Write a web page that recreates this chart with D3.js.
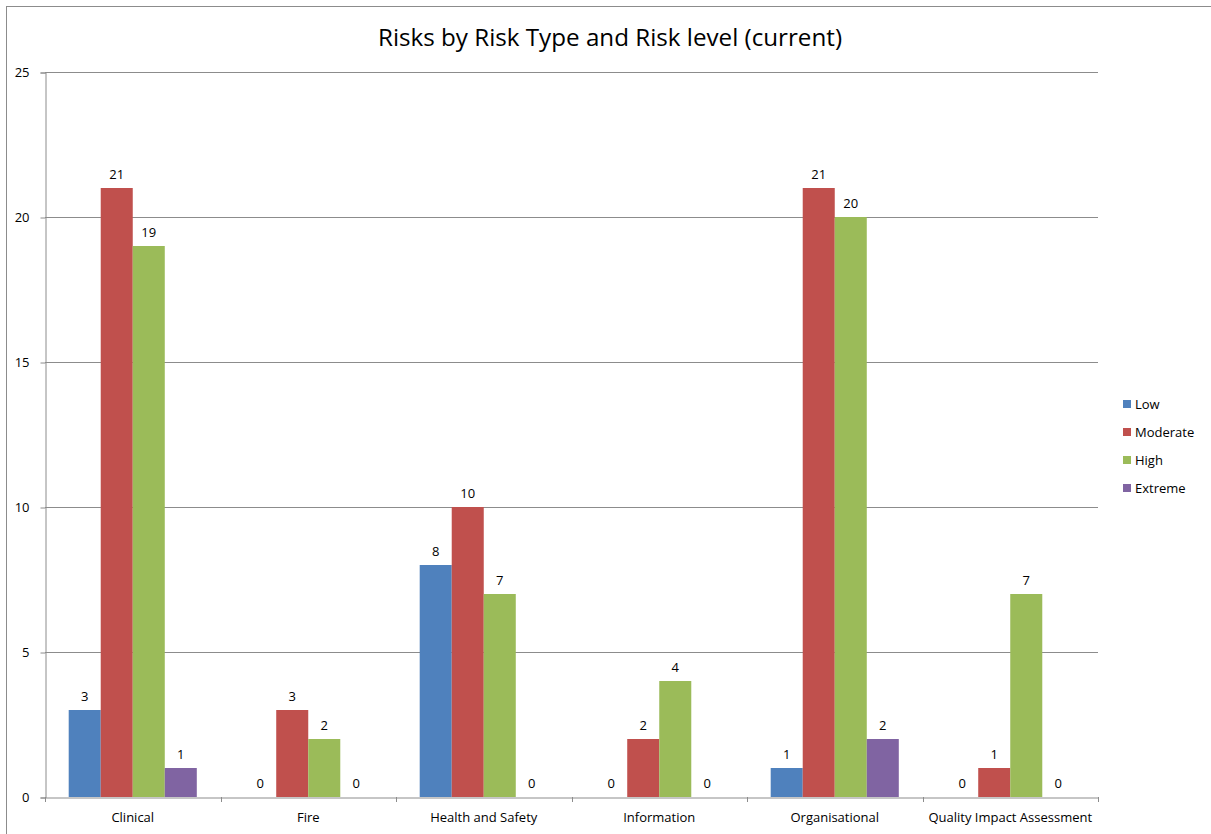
<!DOCTYPE html>
<html>
<head>
<meta charset="utf-8">
<script src="https://cdn.jsdelivr.net/npm/d3@7"></script>
<style>
  body { margin: 0; background: #fff; }
  text { font-family: "Open Sans", "DejaVu Sans", sans-serif; fill: #000; }
</style>
</head>
<body>
<svg id="chart" width="1211" height="834"></svg>
<script>
const categories = ['Clinical', 'Fire', 'Health and Safety', 'Information', 'Organisational', 'Quality Impact Assessment'];
const levels = ['Low', 'Moderate', 'High', 'Extreme'];
const colors = ['#4f81bd', '#c0504d', '#9bbb59', '#8064a2'];
const low = [3, 0, 8, 0, 1, 0];
const moderate = [21, 3, 10, 2, 21, 1];
const high = [19, 2, 7, 4, 20, 7];
const extreme = [1, 0, 0, 0, 2, 0];
const yTicks = [0, 5, 10, 15, 20, 25];

const series = [low, moderate, high, extreme];
const svg = d3.select('#chart');
const fs = 13;

// chart frame (runs off the right/bottom edge like the screenshot)
svg.append('rect')
  .attr('x', 6.5).attr('y', 6.5)
  .attr('width', 1220).attr('height', 840)
  .attr('fill', 'none').attr('stroke', '#8c8c8c').attr('stroke-width', 1);

const plot = { left: 45, right: 1098, top: 72, bottom: 797 };

const x = d3.scaleBand().domain(categories).range([plot.left, plot.right]).paddingInner(0).paddingOuter(0);
const xInner = d3.scaleBand().domain(levels).range([0, x.bandwidth()]).paddingInner(0).paddingOuter(0.74);
const y = d3.scaleLinear().domain([0, 25]).range([plot.bottom, plot.top]);

// gridlines
svg.append('g')
  .selectAll('line')
  .data(yTicks.filter((d) => d > 0))
  .join('line')
  .attr('x1', plot.left).attr('x2', plot.right)
  .attr('y1', (d) => Math.round(y(d)) + 0.5).attr('y2', (d) => Math.round(y(d)) + 0.5)
  .attr('stroke', '#8c8c8c');

// y axis
const yAxis = svg.append('g')
  .attr('transform', `translate(${plot.left + 0.5},0.5)`)
  .call(d3.axisLeft(y).tickValues(yTicks).tickSize(5).tickPadding(11));
yAxis.select('.domain').attr('stroke', '#8c8c8c');
yAxis.selectAll('.tick line').attr('stroke', '#8c8c8c');
yAxis.selectAll('.tick text').attr('font-size', fs).attr('font-family', '"Open Sans", sans-serif');

// x axis
const xAxis = svg.append('g')
  .attr('transform', `translate(0,${plot.bottom + 0.5})`)
  .call(d3.axisBottom(x).tickSize(0).tickPadding(15));
xAxis.select('.domain').attr('stroke', '#8c8c8c');
xAxis.selectAll('.tick text').attr('font-size', fs).attr('font-family', '"Open Sans", sans-serif');
svg.append('g')
  .selectAll('line')
  .data(d3.range(categories.length + 1))
  .join('line')
  .attr('x1', (i) => Math.round(plot.left + i * x.step()) + 0.5)
  .attr('x2', (i) => Math.round(plot.left + i * x.step()) + 0.5)
  .attr('y1', plot.bottom).attr('y2', plot.bottom + 5)
  .attr('stroke', '#8c8c8c');

// bars
const groups = svg.append('g')
  .selectAll('g')
  .data(categories)
  .join('g')
  .attr('transform', (d) => `translate(${x(d)},0)`);

groups.selectAll('rect')
  .data((d, i) => levels.map((lv, j) => ({ lv, j, v: series[j][i] })))
  .join('rect')
  .attr('x', (d) => xInner(d.lv))
  .attr('width', xInner.bandwidth())
  .attr('y', (d) => y(d.v))
  .attr('height', (d) => y(0) - y(d.v))
  .attr('fill', (d) => colors[d.j]);

groups.selectAll('text')
  .data((d, i) => levels.map((lv, j) => ({ lv, j, v: series[j][i] })))
  .join('text')
  .attr('x', (d) => xInner(d.lv) + xInner.bandwidth() / 2)
  .attr('y', (d) => y(d.v) - 9)
  .attr('text-anchor', 'middle')
  .attr('font-size', fs)
  .text((d) => d.v);

// title
svg.append('text')
  .attr('x', 610).attr('y', 46)
  .attr('text-anchor', 'middle')
  .attr('font-size', 24.2)
  .text('Risks by Risk Type and Risk level (current)');

// legend
const legend = svg.append('g').attr('transform', 'translate(1123,400)');
legend.selectAll('rect')
  .data(levels)
  .join('rect')
  .attr('x', 0).attr('y', (d, i) => i * 28)
  .attr('width', 8).attr('height', 8)
  .attr('fill', (d, i) => colors[i]);
legend.selectAll('text')
  .data(levels)
  .join('text')
  .attr('x', 12).attr('y', (d, i) => i * 28 + 9)
  .attr('font-size', fs)
  .text((d) => d);
</script>
</body>
</html>
